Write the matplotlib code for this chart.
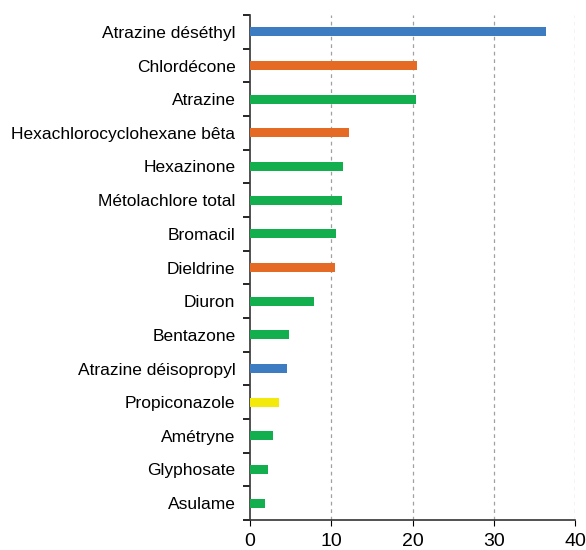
import numpy as np
import matplotlib.pyplot as plt

plt.rcParams['font.family'] = ['Liberation Sans', 'DejaVu Sans']

substances = ['Atrazine déséthyl', 'Chlordécone', 'Atrazine',
              'Hexachlorocyclohexane bêta', 'Hexazinone', 'Métolachlore total',
              'Bromacil', 'Dieldrine', 'Diuron', 'Bentazone',
              'Atrazine déisopropyl', 'Propiconazole', 'Amétryne',
              'Glyphosate', 'Asulame']
valeurs = [36.4, 20.5, 20.4, 12.2, 11.4, 11.3, 10.6, 10.4, 7.9, 4.8,
           4.5, 3.6, 2.8, 2.2, 1.9]
groupes = ['b', 'o', 'g', 'o', 'g', 'g', 'g', 'o', 'g', 'g',
           'b', 'y', 'g', 'g', 'g']
couleurs = {'b': '#3D7CC0', 'o': '#E56A24', 'g': '#13AF4E', 'y': '#F3EA0C'}

fig = plt.figure(figsize=(5.86, 5.5), dpi=100)
ax = fig.add_axes([250 / 586, 1 - 520 / 550, 325 / 586, 505 / 550])

n = len(substances)
pos = np.arange(n)[::-1]
ax.barh(pos, valeurs, height=0.26, color=[couleurs[g] for g in groupes], zorder=3)

ax.set_xlim(0, 40)
ax.set_ylim(-0.5, n - 0.5)
ax.set_xticks([0, 10, 20, 30, 40])
ax.tick_params(axis='x', labelsize=14, length=4, direction='out', pad=5)
ax.set_yticks(pos)
ax.set_yticklabels(substances)
ax.tick_params(axis='y', which='major', length=0, labelsize=12.5, pad=10.5)
ax.set_yticks(np.arange(n + 1) - 0.5, minor=True)
ax.tick_params(axis='y', which='minor', length=5, width=1.2)

for x in [10, 20, 30, 40]:
    ax.axvline(x, color='#A0A0A0', linestyle=(0, (3, 3)), linewidth=0.9, zorder=1)

ax.spines['top'].set_visible(False)
ax.spines['right'].set_visible(False)
ax.spines['left'].set_linewidth(1.2)
ax.spines['bottom'].set_linewidth(1.2)
ax.spines['left'].set_color('#333333')
ax.spines['bottom'].set_color('#333333')

fig.savefig('out.png', dpi=100)
